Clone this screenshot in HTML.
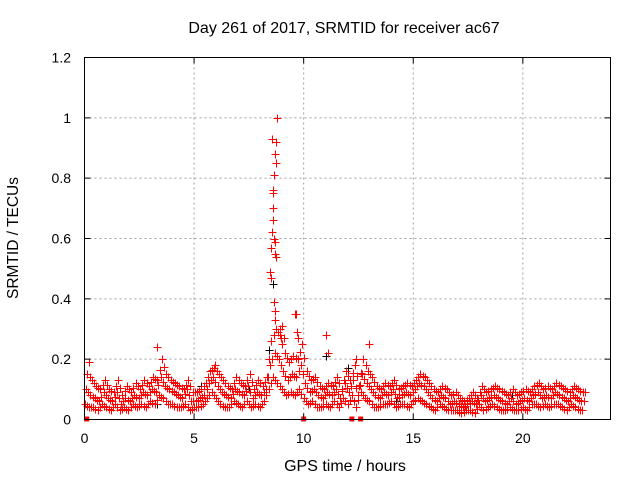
<!DOCTYPE html>
<html><head><meta charset="utf-8"><style>
body{margin:0;background:#fff}
svg{display:block;font-family:"Liberation Sans",sans-serif}
</style></head><body>
<svg id="chart" width="640" height="480">
<rect width="640" height="480" fill="#fff"/>
<text x="344" y="33" text-anchor="middle" font-size="16">Day 261 of 2017, SRMTID for receiver ac67</text>
<text x="345" y="471" text-anchor="middle" font-size="16">GPS time / hours</text>
<text transform="translate(18,238) rotate(-90)" text-anchor="middle" font-size="15.5">SRMTID / TECUs</text>
<g id="grid"></g>
<g id="marks"></g>
<rect x="84.5" y="57.5" width="526" height="362" fill="none" stroke="#000"/>
<g id="axes"></g>
</svg>
<script>
const xTicks=[0,5,10,15,20];
const xTickLabels=["0","5","10","15","20"];
const yTicks=[0,0.2,0.4,0.6,0.8,1,1.2];
const yTickLabels=["0","0.2","0.4","0.6","0.8","1","1.2"];
const tStep=0.2;
const seriesA=[.10,.08,.07,.06,.09,.07,.06,.09,.05,.07,.06,.08,.07,.09,.08,.10,.09,.14,.11,.10,.09,.08,.07,.10,.06,.06,.07,.08,.12,.14,.11,.09,.08,.07,.10,.09,.08,.11,.07,.09,.08,.10,.18,.22,.20,.16,.13,.15,.14,.18,.12,.09,.10,.08,.07,.09,.08,.10,.07,.12,.09,.13,.08,.15,.12,.10,.08,.07,.09,.08,.10,.07,.08,.09,.08,.10,.12,.11,.09,.07,.06,.08,.07,.05,.06,.05,.04,.05,.06,.05,.08,.06,.07,.08,.07,.06,.05,.07,.05,.06,.07,.06,.08,.09,.07,.08,.07,.09,.08,.07,.06,.08,.07,.06];
const seriesB=[.05,.04,.04,.03,.05,.04,.03,.05,.03,.04,.03,.05,.04,.05,.04,.06,.05,.08,.07,.05,.05,.04,.04,.05,.03,.04,.04,.05,.07,.09,.07,.05,.04,.04,.06,.05,.04,.06,.04,.05,.04,.06,.10,.14,.12,.10,.08,.09,.08,.10,.07,.05,.06,.04,.04,.05,.04,.06,.04,.07,.05,.08,.04,.09,.07,.06,.04,.04,.05,.05,.06,.04,.05,.05,.04,.06,.07,.06,.05,.04,.03,.05,.04,.03,.03,.03,.02,.03,.03,.02,.05,.03,.04,.05,.04,.03,.03,.04,.03,.03,.04,.03,.05,.05,.04,.05,.04,.05,.05,.04,.03,.05,.04,.03];
const seriesC=[.15,.13,.11,.10,.13,.10,.09,.13,.08,.11,.09,.12,.10,.13,.11,.14,.13,.20,.15,.13,.12,.11,.10,.13,.09,.09,.10,.12,.16,.17,.15,.13,.11,.10,.14,.12,.11,.15,.10,.13,.11,.14,.26,.30,.28,.22,.19,.21,.20,.25,.16,.13,.14,.11,.10,.12,.11,.14,.10,.16,.13,.18,.11,.20,.16,.14,.11,.10,.12,.11,.13,.10,.11,.12,.11,.13,.15,.14,.12,.10,.09,.11,.10,.08,.09,.07,.06,.07,.09,.07,.11,.09,.10,.11,.10,.09,.08,.10,.08,.09,.10,.09,.11,.12,.10,.11,.10,.12,.11,.10,.09,.11,.10,.09];
const spikeTimes=[8.55,8.6,8.62,8.65,8.7,8.72,8.75,8.8,8.5,8.55,8.6,8.6,8.65,8.7,8.7,8.75,8.45,8.5,8.65,8.7,8.7,8.9,8.95,9.0,9.1,9.6,9.65,9.7,9.75,11.0,11.1,12.4,13.0,3.3,0.2,5.95];
const spikeValues=[.93,.76,.75,.81,.88,.85,.92,1.0,.57,.62,.66,.70,.60,.59,.55,.54,.49,.47,.39,.36,.33,.30,.27,.31,.27,.35,.35,.29,.27,.28,.22,.20,.25,.24,.19,.18];
const blackTimes=[8.6,11.0,12.0,3.3,8.4,5.3,7.5,14.2,19.5];
const blackValues=[.45,.21,.17,.05,.23,.11,.10,.06,.08];
const zeroTimes=[0.1,10.0,12.2,12.6];
const X0=84.5,X1=610.5,Y0=419.5,Y1=57.5,XMAX=24,YMAX=1.2;
const xs=t=>X0+(X1-X0)*t/XMAX;
const ys=v=>Y0-(Y0-Y1)*v/YMAX;
const NS="http://www.w3.org/2000/svg";
const grid=document.getElementById('grid'),marks=document.getElementById('marks'),axes=document.getElementById('axes');
function mk(tag,attrs,parent){const e=document.createElementNS(NS,tag);for(const k in attrs)e.setAttribute(k,attrs[k]);parent.appendChild(e);return e;}
xTicks.forEach((t,i)=>{const x=xs(t);
 if(t>0){const g=mk('line',{x1:x,x2:x,y1:Y1,y2:Y0,stroke:'#a0a0a0','stroke-dasharray':'2,3'},grid);
 
 }
 const tk=mk('path',{d:`M${x},${Y0}v-6M${x},${Y1}v6`,stroke:'#000',fill:'none'},axes);
 
 
 const l=mk('text',{x:x,y:443,'text-anchor':'middle','font-size':'14'},axes);l.textContent=xTickLabels[i];
 
 });
yTicks.forEach((v,i)=>{const y=ys(v);
 if(v>0&&v<YMAX){const g=mk('line',{x1:X0,x2:X1,y1:y,y2:y,stroke:'#a0a0a0','stroke-dasharray':'2,3'},grid);
 
 }
 const tk=mk('path',{d:`M${X0},${y}h6M${X1},${y}h-6`,stroke:'#000',fill:'none'},axes);
 
 
 const l=mk('text',{x:71,y:y+5,'text-anchor':'end','font-size':'14'},axes);l.textContent=yTickLabels[i];
 
 });
function plus(t,v,color){const x=Math.round(xs(t))+0.5,y=Math.round(ys(v))+0.5;
 const p=mk('path',{d:`M${x-4},${y}h8M${x},${y-4}v8`,stroke:color,fill:'none','stroke-width':'1'},marks);
 
 }
blackTimes.forEach((t,i)=>plus(t,blackValues[i],'#000000'));
const offsets=[0,0.07,0.13];
[seriesB,seriesA,seriesC].forEach((s,k)=>s.forEach((v,i)=>{plus(i*tStep+offsets[k],v,'#ff0000');plus(i*tStep+offsets[k]+0.1,(v+s[Math.min(i+1,s.length-1)])/2,'#ff0000');}));
spikeTimes.forEach((t,i)=>plus(t,spikeValues[i],'#ff0000'));
zeroTimes.forEach(t=>{const r=mk('rect',{x:xs(t)-2.5,y:Y0-3,width:5,height:5,fill:'#ff0000'},marks);
 
 });
</script>
</body></html>
